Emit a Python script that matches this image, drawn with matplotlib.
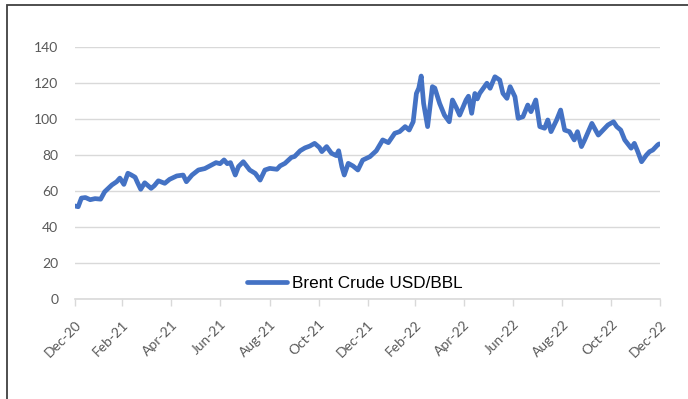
import matplotlib
matplotlib.use("Agg")
import matplotlib.pyplot as plt
from matplotlib.patches import Rectangle
import pandas as pd

# Brent crude, USD/BBL
dates = [
    "2020-12-31", "2021-01-04", "2021-01-08", "2021-01-13", "2021-01-19",
    "2021-01-25", "2021-02-01", "2021-02-06", "2021-02-11", "2021-02-15",
    "2021-02-21", "2021-02-25", "2021-03-02", "2021-03-07", "2021-03-11",
    "2021-03-16", "2021-03-19", "2021-03-23", "2021-03-28", "2021-04-05",
    "2021-04-09", "2021-04-14", "2021-04-22", "2021-04-28", "2021-05-07",
    "2021-05-15", "2021-05-19", "2021-05-26", "2021-06-03", "2021-06-11",
    "2021-06-17", "2021-06-25", "2021-06-30", "2021-07-05", "2021-07-09",
    "2021-07-13", "2021-07-19", "2021-07-23", "2021-07-29", "2021-08-06",
    "2021-08-13", "2021-08-19", "2021-08-25", "2021-08-31", "2021-09-09",
    "2021-09-13", "2021-09-19", "2021-09-27", "2021-10-01", "2021-10-08",
    "2021-10-14", "2021-10-20", "2021-10-26", "2021-11-01", "2021-11-04",
    "2021-11-10", "2021-11-16", "2021-11-22", "2021-11-25", "2021-11-29",
    "2021-12-02", "2021-12-07", "2021-12-13", "2021-12-19", "2021-12-25",
    "2022-01-03", "2022-01-11", "2022-01-19", "2022-01-26", "2022-02-03",
    "2022-02-09", "2022-02-16", "2022-02-21", "2022-02-26", "2022-03-02",
    "2022-03-05", "2022-03-08", "2022-03-11", "2022-03-16", "2022-03-22",
    "2022-03-25", "2022-03-31", "2022-04-06", "2022-04-12", "2022-04-16",
    "2022-04-21", "2022-04-25", "2022-05-03", "2022-05-06", "2022-05-10",
    "2022-05-14", "2022-05-17", "2022-05-20", "2022-05-29", "2022-06-02",
    "2022-06-08", "2022-06-14", "2022-06-18", "2022-06-23", "2022-06-27",
    "2022-07-03", "2022-07-07", "2022-07-13", "2022-07-19", "2022-07-23",
    "2022-07-29", "2022-08-03", "2022-08-09", "2022-08-13", "2022-08-17",
    "2022-08-24", "2022-08-29", "2022-09-03", "2022-09-09", "2022-09-15",
    "2022-09-19", "2022-09-24", "2022-09-28", "2022-10-07", "2022-10-15",
    "2022-10-21", "2022-10-27", "2022-11-03", "2022-11-07", "2022-11-12",
    "2022-11-17", "2022-11-25", "2022-11-29", "2022-12-03", "2022-12-08",
    "2022-12-14", "2022-12-18", "2022-12-22", "2022-12-28", "2022-12-30",
]
brent = [
    51.5, 51.1, 55.9, 56.2, 55.0,
    55.6, 55.3, 59.4, 61.5, 63.2,
    65.0, 67.0, 63.5, 69.7, 68.8,
    67.5, 64.5, 60.8, 64.4, 61.3,
    62.8, 65.5, 64.1, 66.3, 68.2,
    68.7, 65.0, 68.7, 71.5, 72.3,
    73.7, 75.6, 75.0, 77.1, 75.0,
    75.6, 68.7, 73.4, 76.1, 71.5,
    69.6, 65.9, 71.5, 72.4, 71.9,
    73.8, 75.2, 78.5, 79.0, 82.2,
    83.8, 84.8, 86.3, 84.0, 81.7,
    84.5, 80.8, 79.5, 82.2, 73.3,
    68.7, 75.2, 73.7, 71.5, 77.0,
    78.9, 82.2, 88.2, 86.7, 91.9,
    92.8, 95.6, 93.7, 98.3, 114.0,
    117.0, 123.7, 108.5, 95.6, 117.8,
    117.0, 108.5, 102.0, 98.3, 110.4,
    106.0, 102.0, 110.4, 112.5, 103.0,
    114.0, 111.0, 114.1, 119.7, 116.9,
    123.3, 121.5, 114.1, 111.3, 117.8,
    112.2, 100.2, 101.1, 107.6, 103.9,
    110.4, 95.6, 94.7, 99.3, 92.8,
    99.3, 104.8, 93.7, 92.8, 88.2,
    92.8, 84.5, 88.2, 97.4, 90.9,
    93.7, 96.5, 98.3, 95.6, 93.7,
    88.2, 83.6, 86.3, 82.0, 76.1,
    79.8, 81.7, 82.6, 85.4, 86.0,
]
tick_dates = ["2020-12-31", "2021-02-28", "2021-04-30", "2021-06-30",
              "2021-08-31", "2021-10-31", "2021-12-31", "2022-02-28",
              "2022-04-30", "2022-06-30", "2022-08-31", "2022-10-31",
              "2022-12-31"]
tick_labels = ["Dec-20", "Feb-21", "Apr-21", "Jun-21", "Aug-21", "Oct-21",
               "Dec-21", "Feb-22", "Apr-22", "Jun-22", "Aug-22", "Oct-22",
               "Dec-22"]
y_ticks = [0, 20, 40, 60, 80, 100, 120, 140]

GRID = "#d9d9d9"
TXT = "#595959"
W, H = 688, 399

fig = plt.figure(figsize=(6.88, 3.99), dpi=100)
ax = fig.add_axes([75 / W, 1 - 298.7 / H, 585 / W, (298.7 - 46.7) / H])

x = pd.to_datetime(dates)
ax.plot(x, brent, color="#4472C4", lw=3.4, solid_joinstyle="round",
        solid_capstyle="round", label="Brent Crude USD/BBL", zorder=3)

ax.set_xlim(pd.Timestamp("2020-12-31"), pd.Timestamp("2022-12-31"))
ax.set_ylim(0, 140)
ax.set_yticks(y_ticks)
ax.set_yticklabels([str(v) for v in y_ticks], family="Lato", fontsize=10,
                   color=TXT)
ax.set_xticks(pd.to_datetime(tick_dates))
ax.set_xticklabels(tick_labels, family="Lato", fontsize=10, color=TXT,
                   rotation=45, ha="right", va="top", rotation_mode="anchor")
ax.tick_params(axis="y", length=0, pad=12)
ax.tick_params(axis="x", length=5, width=1, color=GRID, pad=9)
ax.grid(axis="y", color=GRID, lw=1)
ax.set_axisbelow(True)
for s in ("top", "right", "left"):
    ax.spines[s].set_visible(False)
ax.spines["bottom"].set_color(GRID)
ax.spines["bottom"].set_linewidth(1.2)

ax.legend(loc="center", bbox_to_anchor=(355 / W, 1 - 283 / H),
          bbox_transform=fig.transFigure, frameon=False,
          prop={"family": "Liberation Sans", "size": 12.3},
          handlelength=2.3, handletextpad=0.3)

# outer chart border (only top and left edges fall inside the picture)
fig.patches.append(Rectangle((7 / W, -0.2), 1.2, 1.2 - 4.5 / H,
                             transform=fig.transFigure, fill=False,
                             ec="#404040", lw=1.3, clip_on=False))

fig.savefig("out.png", dpi=100)
